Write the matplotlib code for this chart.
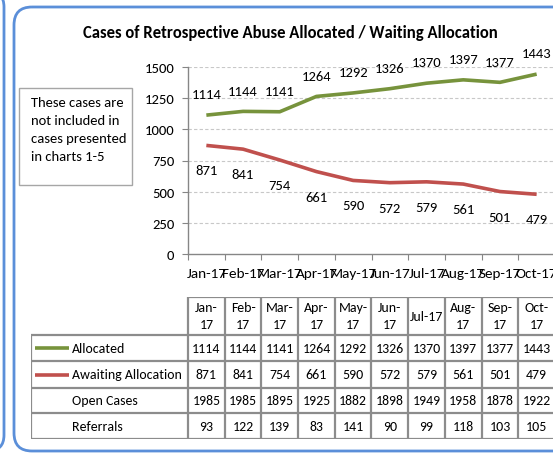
import matplotlib
matplotlib.use("Agg")
import matplotlib.pyplot as plt
from matplotlib.patches import FancyBboxPatch, Rectangle

# Datos del gráfico
months = ['Jan-17', 'Feb-17', 'Mar-17', 'Apr-17', 'May-17', 'Jun-17', 'Jul-17', 'Aug-17', 'Sep-17', 'Oct-17']
header_labels = ['Jan-\n17', 'Feb-\n17', 'Mar-\n17', 'Apr-\n17', 'May-\n17', 'Jun-\n17', 'Jul-17', 'Aug-\n17', 'Sep-\n17', 'Oct-\n17']
allocated = [1114, 1144, 1141, 1264, 1292, 1326, 1370, 1397, 1377, 1443]
awaiting = [871, 841, 754, 661, 590, 572, 579, 561, 501, 479]
open_cases = [1985, 1985, 1895, 1925, 1882, 1898, 1949, 1958, 1878, 1922]
referrals = [93, 122, 139, 83, 141, 90, 99, 118, 103, 105]
yticks = [0, 250, 500, 750, 1000, 1250, 1500]

# Estilo
GREEN = '#77933c'
RED = '#c0504d'
GRID = '#c8c8c8'
AXIS = '#868686'
TABLE_LINE = '#8c8c8c'
FRAME = '#5b8fd9'
FS = 10.5  # texto del gráfico
FS_TAB = 10  # texto de la tabla
plt.rcParams['font.family'] = ['Carlito', 'Liberation Sans Narrow', 'DejaVu Sans']

W, H = 553, 456
fig = plt.figure(figsize=(W / 100, H / 100), dpi=100)


def px_rect(x0, y0, x1, y1):
    # convierte píxeles (origen arriba-izquierda) a fracciones de la figura
    return [x0 / W, 1 - y1 / H, (x1 - x0) / W, (y1 - y0) / H]


# Marco azul redondeado
frame_ax = fig.add_axes([0, 0, 1, 1])
frame_ax.set_xlim(0, W)
frame_ax.set_ylim(H, 0)
frame_ax.axis('off')
frame_ax.add_patch(FancyBboxPatch((14, 8), 700, 444, boxstyle='round,pad=0,rounding_size=18',
                                  fill=False, ec=FRAME, lw=2))
frame_ax.add_patch(FancyBboxPatch((-300, -8), 304, 460, boxstyle='round,pad=0,rounding_size=16',
                                  fill=False, ec=FRAME, lw=2))

# Cuadro de nota
frame_ax.add_patch(Rectangle((19, 89), 113, 97, fill=False, ec='#a6a6a6', lw=1))
frame_ax.text(31, 97, 'These cases are\nnot included in\ncases presented\nin charts 1-5',
              fontsize=FS_TAB + 0.5, va='top', ha='left', linespacing=1.6)

# Título
fig.text(290 / W, 1 - 33 / H, 'Cases of Retrospective Abuse Allocated / Waiting Allocation',
         fontsize=12, fontweight='bold', ha='center', va='center')

# Gráfico de líneas
ax = fig.add_axes(px_rect(188, 68, 555, 255))
x = list(range(len(months)))
ax.plot(x, allocated, color=GREEN, lw=2.6, solid_capstyle='butt')
ax.plot(x, awaiting, color=RED, lw=2.6, solid_capstyle='butt')
for xi, v in zip(x, allocated):
    ax.annotate(str(v), (xi, v), xytext=(0, 15), textcoords='offset points',
                ha='center', va='center', fontsize=FS)
for xi, v in zip(x, awaiting):
    ax.annotate(str(v), (xi, v), xytext=(0, -18), textcoords='offset points',
                ha='center', va='center', fontsize=FS)

ax.set_xlim(-0.5, len(months) - 0.5)
ax.set_ylim(0, 1500)
ax.set_yticks(yticks)
ax.set_yticklabels([str(t) for t in yticks], fontsize=FS)
ax.set_xticks([i - 0.5 for i in range(len(months) + 1)])
ax.set_xticklabels([])
ax.set_xticks(x, minor=True)
ax.set_xticklabels(months, minor=True, fontsize=11)
ax.tick_params(axis='x', which='minor', length=0, pad=9)
ax.tick_params(axis='x', which='major', length=4, color=AXIS, direction='out')
ax.tick_params(axis='y', length=4, color=AXIS, pad=6)
for yt in yticks[1:]:
    ax.axhline(yt, color=GRID, lw=0.8, ls=(0, (3, 2)), zorder=0)
for s in ['top', 'right']:
    ax.spines[s].set_visible(False)
for s in ['left', 'bottom']:
    ax.spines[s].set_color(AXIS)
    ax.spines[s].set_linewidth(1)

# Tabla de datos
tab = fig.add_axes(px_rect(31, 298, 555, 440))
label_w = (188 - 31) / 36.7
tab.set_xlim(-0.5 - label_w, len(months) - 0.5)
tab.set_ylim(142, 0)
tab.axis('off')
row_edges = [0, 38, 64, 91, 116, 142]
n = len(months)
left = -0.5 - label_w
# líneas horizontales
tab.hlines(0, -0.5, n - 0.5, color=TABLE_LINE, lw=1.6)
for ye in row_edges[1:]:
    tab.hlines(ye, left, n - 0.5, color=TABLE_LINE, lw=1.6)
# líneas verticales
tab.vlines(left, row_edges[1], row_edges[-1], color=TABLE_LINE, lw=1.6)
for j in range(n + 1):
    tab.vlines(j - 0.5, 0, row_edges[-1], color=TABLE_LINE, lw=1.6)

for j, lab in enumerate(header_labels):
    tab.text(j, 19, lab, ha='center', va='center', fontsize=FS_TAB, linespacing=1.5)

rows = [('Allocated', allocated, GREEN), ('Awaiting Allocation', awaiting, RED),
        ('Open Cases', open_cases, None), ('Referrals', referrals, None)]
lx0 = left + 4 / 36.7
lx1 = left + 38 / 36.7
tx = left + 41 / 36.7
for r, (name, vals, col) in enumerate(rows):
    yc = (row_edges[r + 1] + row_edges[r + 2]) / 2
    if col:
        tab.plot([lx0, lx1], [yc, yc], color=col, lw=2.6, solid_capstyle='butt')
    tab.text(tx, yc, name, ha='left', va='center', fontsize=FS_TAB)
    for j, v in enumerate(vals):
        tab.text(j, yc, str(v), ha='center', va='center', fontsize=FS_TAB)

fig.savefig('out.png', dpi=100)
